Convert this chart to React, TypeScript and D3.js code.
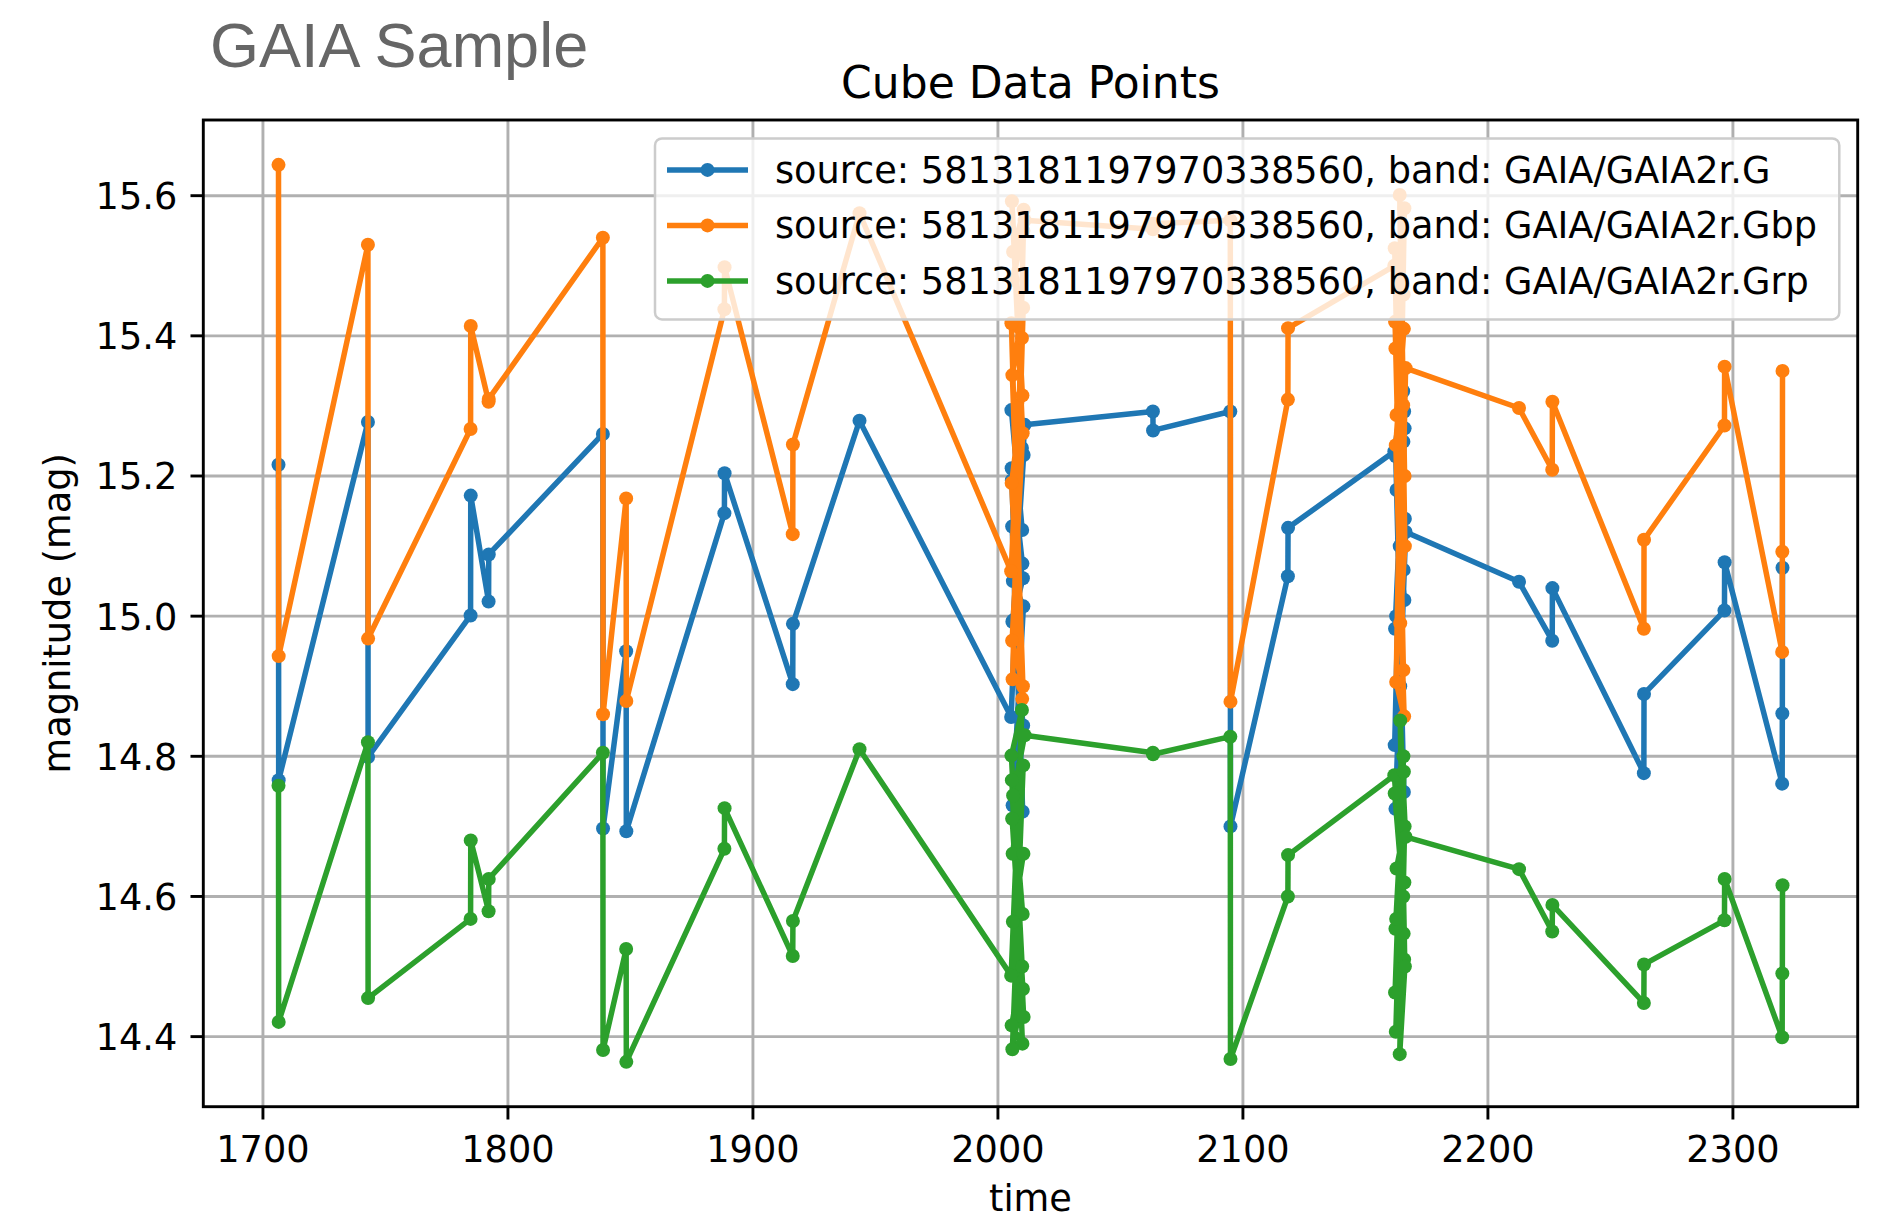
import React from "react";
import * as d3 from "d3";

// transit times (days) shared by the three bands, in plotted order
const times = [
  1706.35, 1706.42,
  1742.85, 1742.92,
  1784.75, 1784.82, 1792.1, 1792.17,
  1838.75, 1838.82, 1848.25, 1848.32,
  1888.35, 1888.42, 1916.25, 1916.32, 1943.5,
  2005.4, 2009.8, 2005.5, 2009.9, 2005.6, 2010.0, 2005.7, 2010.1, 2005.8,
  2010.2, 2005.9, 2010.3, 2006.0, 2010.4, 2006.1, 2010.5, 2006.2, 2010.9,
  2063.25, 2063.32, 2094.85, 2094.92, 2118.35, 2118.42,
  2161.8, 2165.4, 2161.95, 2165.5, 2162.1, 2165.6, 2162.25, 2165.7, 2162.4,
  2165.8, 2162.55, 2165.9, 2162.7, 2166.0, 2164.0, 2166.1, 2164.2, 2166.4,
  2212.7, 2226.25, 2226.32, 2263.65, 2263.72, 2296.55, 2296.62,
  2320.1, 2320.17, 2320.24,
];

const gMag = [
  15.216, 14.766,
  15.277, 14.799,
  15.001, 15.172, 15.021, 15.088,
  15.26, 14.697, 14.95, 14.693,
  15.147, 15.204, 14.903, 14.989, 15.279,
  14.856, 15.24, 15.294, 15.123, 15.211, 15.075, 15.194, 14.721, 15.128,
  15.054, 14.992, 14.844, 14.73, 15.014, 15.05, 15.23, 14.994, 15.273,
  15.292, 15.265, 15.292, 14.7, 15.057, 15.126,
  15.235, 15.321, 14.816, 15.249, 14.982, 15.066, 14.725, 14.749, 15.228,
  15.292, 15.0, 15.023, 15.18, 15.268, 15.1, 15.139, 14.9, 15.12,
  15.049, 14.965, 15.04, 14.776, 14.889, 15.008, 15.077,
  14.761, 14.861, 15.069,
];

const bpMag = [
  15.644, 14.943,
  15.53, 14.968,
  15.267, 15.414, 15.306, 15.31,
  15.54, 14.86, 15.168, 14.879,
  15.438, 15.498, 15.117, 15.245, 15.575,
  15.064, 15.397, 15.418, 14.882, 15.19, 15.315, 15.592, 15.261, 14.965,
  14.9, 15.344, 15.44, 14.91, 15.55, 15.48, 15.58, 15.52, 15.565,
  15.552, 15.56, 15.565, 14.878, 15.309, 15.411,
  15.5, 15.301, 15.525, 14.923, 15.42, 15.459, 15.382, 15.41, 15.244,
  14.857, 14.906, 15.582, 15.287, 15.2, 15.601, 15.1, 14.99, 15.354,
  15.297, 15.209, 15.306, 14.982, 15.109, 15.272, 15.356,
  14.949, 15.092, 15.35,
];

const rpMag = [
  14.758, 14.421,
  14.82, 14.455,
  14.568, 14.68, 14.579, 14.625,
  14.805, 14.381, 14.525, 14.364,
  14.668, 14.726, 14.515, 14.565, 14.81,
  14.487, 14.866, 14.801, 14.5, 14.416, 14.39, 14.766, 14.575, 14.711,
  14.468, 14.382, 14.787, 14.661, 14.661, 14.564, 14.428, 14.744, 14.83,
  14.805, 14.803, 14.828, 14.368, 14.6, 14.659,
  14.773, 14.6, 14.747, 14.8, 14.463, 14.547, 14.554, 14.778, 14.407,
  14.51, 14.568, 14.62, 14.64, 14.7, 14.375, 14.5, 14.851, 14.685,
  14.639, 14.55, 14.588, 14.448, 14.503, 14.566, 14.625,
  14.399, 14.49, 14.616,
];

const seriesNames = [
  "source: 5813181197970338560, band: GAIA/GAIA2r.G",
  "source: 5813181197970338560, band: GAIA/GAIA2r.Gbp",
  "source: 5813181197970338560, band: GAIA/GAIA2r.Grp",
];
const seriesColors = ["#1f77b4", "#ff7f0e", "#2ca02c"];

const xTicks = [1700, 1800, 1900, 2000, 2100, 2200, 2300];
const yTicks = [14.4, 14.6, 14.8, 15.0, 15.2, 15.4, 15.6];

const W = 1885;
const H = 1222;
const margin = { top: 120, right: 27.3, bottom: 115.3, left: 203.3 };
const fs = 36.7; // 10pt
const font = "DejaVu Sans, sans-serif";

export default function App() {
  const pw = W - margin.left - margin.right;
  const ph = H - margin.top - margin.bottom;

  const tExt = d3.extent(times) as [number, number];
  const tPad = (tExt[1] - tExt[0]) * 0.05;
  const allMags = [...gMag, ...bpMag, ...rpMag];
  const mExt = d3.extent(allMags) as [number, number];
  const mPad = (mExt[1] - mExt[0]) * 0.05;

  const x = d3
    .scaleLinear()
    .domain([tExt[0] - tPad, tExt[1] + tPad])
    .range([margin.left, margin.left + pw]);
  const y = d3
    .scaleLinear()
    .domain([mExt[0] - mPad, mExt[1] + mPad])
    .range([margin.top + ph, margin.top]);

  const series = [gMag, bpMag, rpMag].map((vals) =>
    vals.map((v, i) => [times[i], v] as [number, number])
  );

  const line = d3
    .line<[number, number]>()
    .x((d) => x(d[0]))
    .y((d) => y(d[1]));

  const tickLen = 12.8;
  const sw = 2.9;

  // legend layout
  const lgLeft = 655;
  const lgRight = margin.left + pw - 18.4;
  const lgTop = margin.top + 18.4;
  const rowH = 55.5;
  const lgBottom = lgTop + 181;

  return (
    <svg
      width={W}
      height={H}
      style={{ position: "absolute", left: 0, top: 0, display: "block", background: "#fff" }}
      fontFamily={font}
    >
      <rect width={W} height={H} fill="#fff" />
      <text x={210} y={67} fontFamily="Liberation Sans, Arial, sans-serif" fontSize={63} fill="#666666">
        GAIA Sample
      </text>

      {/* grid */}
      {xTicks.map((t) => (
        <line key={"gx" + t} x1={x(t)} x2={x(t)} y1={margin.top} y2={margin.top + ph} stroke="#b0b0b0" strokeWidth={sw} />
      ))}
      {yTicks.map((t) => (
        <line key={"gy" + t} x1={margin.left} x2={margin.left + pw} y1={y(t)} y2={y(t)} stroke="#b0b0b0" strokeWidth={sw} />
      ))}

      {/* data */}
      {series.map((pts, si) => (
        <g key={"s" + si}>
          <path d={line(pts) ?? ""} fill="none" stroke={seriesColors[si]} strokeWidth={5.5} strokeLinejoin="round" />
          {pts.map((p, i) => (
            <circle key={i} cx={x(p[0])} cy={y(p[1])} r={7} fill={seriesColors[si]} />
          ))}
        </g>
      ))}

      {/* spines */}
      <rect x={margin.left} y={margin.top} width={pw} height={ph} fill="none" stroke="#000" strokeWidth={sw} />

      {/* x ticks */}
      {xTicks.map((t) => (
        <g key={"tx" + t}>
          <line x1={x(t)} x2={x(t)} y1={margin.top + ph} y2={margin.top + ph + tickLen} stroke="#000" strokeWidth={sw} />
          <text x={x(t)} y={margin.top + ph + 55} textAnchor="middle" fontSize={fs} fill="#000">
            {t}
          </text>
        </g>
      ))}
      {/* y ticks */}
      {yTicks.map((t) => (
        <g key={"ty" + t}>
          <line x1={margin.left - tickLen} x2={margin.left} y1={y(t)} y2={y(t)} stroke="#000" strokeWidth={sw} />
          <text x={margin.left - 26} y={y(t) + 13.4} textAnchor="end" fontSize={fs} fill="#000">
            {t.toFixed(1)}
          </text>
        </g>
      ))}

      <text x={margin.left + pw / 2} y={1211} textAnchor="middle" fontSize={fs} fill="#000">
        time
      </text>
      <text
        transform={`translate(70,${margin.top + ph / 2}) rotate(-90)`}
        textAnchor="middle"
        fontSize={fs}
        fill="#000"
      >
        magnitude (mag)
      </text>
      <text x={margin.left + pw / 2} y={98} textAnchor="middle" fontSize={44} fill="#000">
        Cube Data Points
      </text>

      {/* legend */}
      <rect
        x={lgLeft}
        y={lgTop}
        width={lgRight - lgLeft}
        height={lgBottom - lgTop}
        rx={7}
        fill="#fff"
        fillOpacity={0.8}
        stroke="#cccccc"
        strokeWidth={2.5}
      />
      {seriesNames.map((name, i) => {
        const cy = lgTop + 31.5 + i * rowH;
        return (
          <g key={"lg" + i}>
            <line x1={667} x2={748} y1={cy} y2={cy} stroke={seriesColors[i]} strokeWidth={5.5} />
            <circle cx={707.5} cy={cy} r={7} fill={seriesColors[i]} />
            <text x={775} y={cy + 13} fontSize={fs} fill="#000">
              {name}
            </text>
          </g>
        );
      })}
    </svg>
  );
}
